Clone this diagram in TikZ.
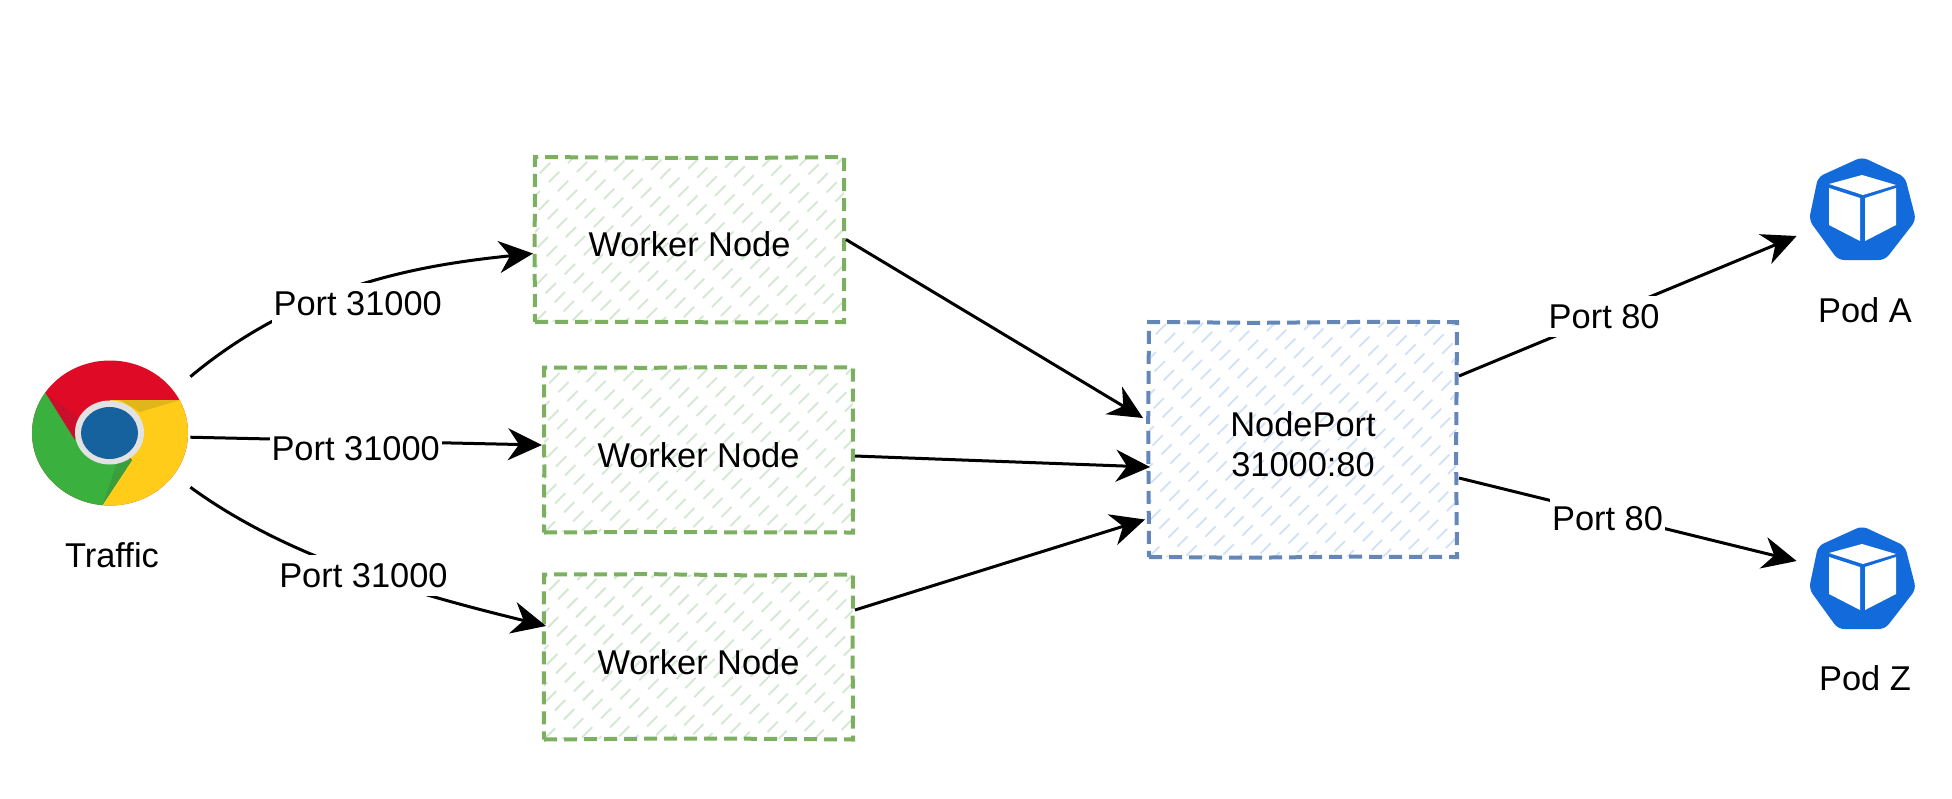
\documentclass[tikz,border=0pt]{standalone}
\usepackage{fontspec}
\setmainfont{Liberation Sans}
\usetikzlibrary{arrows.meta,decorations.pathmorphing,calc}
\definecolor{gborder}{HTML}{7CB060}
\definecolor{ghatch}{HTML}{D5E8D4}
\definecolor{bborder}{HTML}{6487B8}
\definecolor{bhatch}{HTML}{D3E2F8}
\definecolor{podblue}{HTML}{136BDB}
\definecolor{chred}{HTML}{DF0A25}
\definecolor{chredd}{HTML}{C90F2C}
\definecolor{chgreen}{HTML}{3AB13E}
\definecolor{chgreend}{HTML}{3A9E3C}
\definecolor{chyellow}{HTML}{FFCD19}
\definecolor{chyellowd}{HTML}{E0B61A}
\definecolor{chring}{HTML}{E2E2E2}
\definecolor{chblue}{HTML}{15629E}
\newcommand{\lowered}[1]{\raisebox{-4.1pt}[0.72em][0.2em]{#1}}
\tikzset{
  x=0.5pt,y=-0.5pt,
  sketchbox/.style={draw=#1,line width=2pt,dash pattern=on 6.5pt off 3.5pt,
    decorate,decoration={random steps,segment length=50pt,amplitude=0.5pt},
    font=\fontsize{17.2}{20}\selectfont,align=center,inner sep=0pt},
  hatchfill/.style={path picture={
    \foreach \k in {-252,-234,...,342}
      \draw[#1,line width=1pt,dash pattern=on 7.3pt off 6.2pt]
        ($(path picture bounding box.south west)+(\k/2-400,\k/2+400)$) -- ++(800,-800);}},
  workerbox/.style={sketchbox=gborder,hatchfill=ghatch,minimum width=154.5pt,minimum height=82.5pt},
  portbox/.style={sketchbox=bborder,hatchfill=bhatch,minimum width=154pt,minimum height=117.5pt},
  iconbox/.style={inner sep=0pt,minimum width=#1},
  conn/.style={line width=1.5pt,black,-{Stealth[length=17pt,width=16pt,inset=5.5pt]}},
  lab/.style={fill=white,inner sep=1pt,minimum height=20.5pt,font=\fontsize{17.2}{20}\selectfont},
  captxt/.style={font=\fontsize{17.2}{20}\selectfont,inner sep=0pt},
}
\newcommand{\podicon}[2]{%
  \begin{scope}[shift={(#1,#2)}]
    \fill[podblue,rounded corners=3pt] (0,-58)--(43,-38)--(54,5)--(23,45)--(-24,45)--(-53,5)--(-44,-38)--cycle;
    \fill[white] (-33,-31)--(0,-40)--(34,-30)--(1,-20)--cycle;
    \fill[white] (-33,-27)--(-2,-17)--(-2,26)--(-33,10)--cycle;
    \fill[white] (3,-17)--(34,-27)--(34,10)--(3,26)--cycle;
  \end{scope}}
\pgfmathsetseed{7}
\begin{document}
\begin{tikzpicture}
\useasboundingbox (0,0) rectangle (1952,798);
% browser icon
\begin{scope}
  \clip (110,433) ellipse [x radius=78,y radius=72.5];
  \fill[chred] (20,350) rectangle (200,520);
  \fill[chyellow] (195,400)--(110,400)--(110,433)--(132,460)--(103,504)--(103,520)--(195,520)--cycle;
  \fill[chgreen] (38,381)--(75,438)--(132,460)--(103,504)--(98,520)--(20,520)--(20,381)--cycle;
  \fill[chredd] (45,392)--(75,440)--(78,417)--cycle;
  \fill[chyellowd] (120,400)--(180,400)--(140,412)--cycle;
  \fill[chgreend] (132,460)--(103,504)--(117,463)--cycle;
\end{scope}
\fill[chring] (109.5,432.5) ellipse [x radius=34.5,y radius=32];
\fill[chblue] (109.5,433) ellipse [x radius=28.5,y radius=26];
\podicon{1862}{215}
\podicon{1862}{584}
% nodes
\node[iconbox=80pt,minimum height=75pt] (traffic) at (110,433) {};
\node[iconbox=65pt,minimum height=52pt] (podA) at (1862,215) {};
\node[iconbox=65pt,minimum height=52pt] (podZ) at (1862,584) {};
\node[captxt] (trafficlabel) at (112,555) {Traffic};
\node[captxt] (podAlabel) at (1865,310) {Pod A};
\node[captxt] (podZlabel) at (1865,678) {Pod Z};
\node[workerbox] (w1) at (689.5,239.5) {\lowered{Worker Node}};
\node[workerbox] (w2) at (698.5,450) {\lowered{Worker Node}};
\node[workerbox] (w3) at (698.5,657) {\lowered{Worker Node}};
\node[portbox] (np) at (1303,439.5) {\lowered{NodePort}\\\lowered{31000:80}};
% connectors
\draw[conn] (traffic.35) .. controls (300,285) and (420,265) .. node[lab,pos=0.42,xshift=12.5pt,yshift=-4.4pt] {Port 31000} ([shift={(0,14)}]w1.west);
\draw[conn] (traffic.-3) -- node[lab,pos=0.47,yshift=-4pt] {Port 31000} ([shift={(0,-5)}]w2.west);
\draw[conn] (traffic.-34) .. controls (290,560) and (420,595) .. node[lab,pos=0.47,xshift=8pt,yshift=-3.5pt] {Port 31000} ([shift={(4,-31)}]w3.west);
\draw[conn] (w1.east) -- ([shift={(-4,-21.5)}]np.west);
\draw[conn] ([shift={(0,6)}]w2.east) -- ([shift={(3,27.5)}]np.west);
\draw[conn] ([shift={(0,-47)}]w3.east) -- ([shift={(-2,80)}]np.west);
\draw[conn] ([shift={(0,-63.5)}]np.east) -- node[lab,pos=0.43,yshift=-0.5pt] {Port 80} ([shift={(0,21)}]podA.west);
\draw[conn] ([shift={(0,38.5)}]np.east) -- node[lab,pos=0.44,yshift=-2pt] {Port 80} ([shift={(0,-23)}]podZ.west);
\end{tikzpicture}
\end{document}
